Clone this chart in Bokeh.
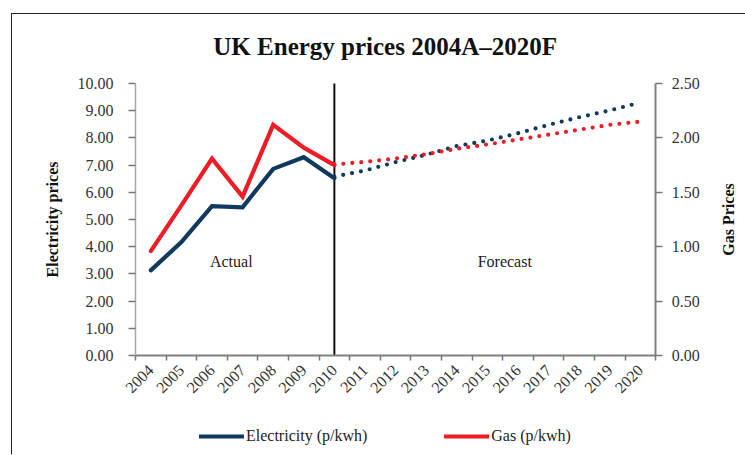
import math
from bokeh.plotting import figure
from bokeh.models import (Range1d, LinearAxis, FixedTicker, Legend, LegendItem,
                          NumeralTickFormatter, ColumnDataSource)
from bokeh.core.properties import value
from bokeh.embed import file_html
from bokeh.resources import INLINE

# ---------------- data ----------------
years = [str(y) for y in range(2004, 2021)]
actual_years = ["2004", "2005", "2006", "2007", "2008", "2009", "2010"]
forecast_years = ["2010", "2011", "2012", "2013", "2014", "2015", "2016",
                  "2017", "2018", "2019", "2020"]
elec_actual = [3.13, 4.17, 5.49, 5.45, 6.86, 7.29, 6.52]          # p/kwh, left axis
gas_actual = [0.96, 1.38, 1.81, 1.46, 2.12, 1.91, 1.75]           # right axis
elec_forecast = [6.58, 6.80, 7.11, 7.38, 7.70, 7.90, 8.17, 8.48, 8.76, 9.01, 9.30]
gas_forecast = [1.755, 1.78, 1.81, 1.85, 1.90, 1.94, 1.985, 2.03, 2.075, 2.12, 2.15]
elec_ticks = [0, 1, 2, 3, 4, 5, 6, 7, 8, 9, 10]
gas_ticks = [0, 0.5, 1.0, 1.5, 2.0, 2.5]
divider_year = "2010"
title_text = "UK Energy prices 2004A\u20132020F"
left_label = "Electricity prices"
right_label = "Gas Prices"

# category centres on a numeric scale (Excel style: ticks between categories)
pos = {y: i + 0.5 for i, y in enumerate(years)}
bounds = list(range(len(years) + 1))

FONT = "Liberation Serif"
ELEC = "#0f3a5e"
GAS = "#ee1d25"

# the frame covers the whole chart area; axes are pinned inside it
EXTRA_B = 3.456      # room below zero for year labels and legend
EXTRA_T = 2.537      # room above the top tick for the title
EXTRA_L = 4.02       # room left of the first category for the left axis
EXTRA_R = 2.97       # room right of the last category for the right axis
gas_scale = gas_ticks[-1] / elec_ticks[-1]
n = len(years)

p = figure(width=734, height=441, output_backend="svg", toolbar_location=None,
           title=None,
           x_range=Range1d(-EXTRA_L, n + EXTRA_R),
           y_range=Range1d(elec_ticks[0] - EXTRA_B, elec_ticks[-1] + EXTRA_T),
           min_border_left=0, min_border_right=0, min_border_top=0,
           min_border_bottom=6,
           styles={"border-top": "1.5px solid #222", "border-left": "1.5px solid #222",
                   "margin-left": "11px", "margin-top": "13px"})
p.extra_y_ranges = {"gas": Range1d(gas_ticks[0] - EXTRA_B * gas_scale,
                                   gas_ticks[-1] + EXTRA_T * gas_scale)}
p.xgrid.visible = False
p.ygrid.visible = False
p.outline_line_color = None
p.background_fill_color = "white"
p.border_fill_color = "white"

# title
p.text(x=[n / 2 - 0.34], y=[elec_ticks[-1] + 1.36], text=[title_text],
       text_font=value(FONT), text_font_style="bold", text_font_size="25px",
       text_color="#111111", text_align="center", text_baseline="middle")

# x axis, pinned at zero
xa = p.xaxis[0]
xa.fixed_location = 0
xa.bounds = (bounds[0], bounds[-1])
xa.ticker = FixedTicker(ticks=[pos[y] for y in years], minor_ticks=bounds)
xa.major_label_overrides = {pos[y]: y for y in years}
xa.major_label_orientation = math.pi / 4
xa.major_tick_out = 0
xa.major_tick_in = 0
xa.minor_tick_out = 5
xa.minor_tick_in = 0
xa.minor_tick_line_color = "#777777"
xa.minor_tick_line_width = 1.5
xa.axis_line_color = "#808080"
xa.axis_line_width = 2
xa.major_label_text_font = FONT
xa.major_label_text_font_size = "16px"
xa.major_label_text_color = "#333333"
xa.major_label_standoff = 7

# left axis, pinned at the first category boundary
ya = p.yaxis[0]
ya.fixed_location = bounds[0]
ya.bounds = (elec_ticks[0], elec_ticks[-1])
ya.ticker = FixedTicker(ticks=elec_ticks)
ya.formatter = NumeralTickFormatter(format="0.00")
ya.axis_label = left_label
ya.axis_label_text_font = FONT
ya.axis_label_text_font_style = "bold"
ya.axis_label_text_font_size = "16px"
ya.axis_label_text_color = "#111111"
ya.axis_label_standoff = 14
ya.major_label_text_font = FONT
ya.major_label_text_font_size = "16px"
ya.major_label_text_color = "#333333"
ya.major_label_standoff = 15
ya.axis_line_color = "#a8a8a8"
ya.axis_line_width = 1.5
ya.major_tick_line_color = "#777777"
ya.major_tick_line_width = 1.5
ya.major_tick_out = 7
ya.major_tick_in = 0
ya.minor_tick_line_color = None

# right axis, pinned at the last category boundary
ra = LinearAxis(y_range_name="gas", ticker=FixedTicker(ticks=gas_ticks),
                formatter=NumeralTickFormatter(format="0.00"),
                bounds=(gas_ticks[0], gas_ticks[-1]), fixed_location=bounds[-1])
ra.major_label_text_font = FONT
ra.major_label_text_font_size = "16px"
ra.major_label_text_color = "#333333"
ra.major_label_standoff = 9
ra.axis_line_color = "#808080"
ra.axis_line_width = 2
ra.major_tick_line_color = "#777777"
ra.major_tick_line_width = 1.5
ra.major_tick_out = 7
ra.major_tick_in = 0
ra.minor_tick_line_color = None
p.add_layout(ra, "right")

# right axis title, reading bottom to top
p.text(x=[n + 2.39], y=[(elec_ticks[0] + elec_ticks[-1]) / 2], text=[right_label],
       angle=math.pi / 2, text_font=value(FONT), text_font_style="bold",
       text_font_size="16px", text_color="#111111", text_align="center",
       text_baseline="middle")

# divider between actual and forecast
p.segment(x0=[pos[divider_year]], y0=[elec_ticks[0]], x1=[pos[divider_year]],
          y1=[elec_ticks[-1]], line_color="#111111", line_width=2)

# series
r_e = p.line([pos[y] for y in actual_years], elec_actual, line_color=ELEC,
             line_width=4.2, line_join="miter", line_cap="round")
r_g = p.line([pos[y] for y in actual_years], gas_actual, y_range_name="gas",
             line_color=GAS, line_width=4.2, line_join="miter", line_cap="round")
p.line([pos[y] for y in forecast_years], elec_forecast, line_color=ELEC,
       line_width=4.2, line_dash="0 9", line_cap="round")
p.line([pos[y] for y in forecast_years], gas_forecast, y_range_name="gas",
       line_color=GAS, line_width=4.2, line_dash="0 9", line_cap="round")

# annotations
ann = ColumnDataSource(dict(x=[pos["2007"] - 0.37, pos["2016"] - 0.43],
                            y=[3.46, 3.46], t=["Actual", "Forecast"]))
p.text(x="x", y="y", text="t", source=ann, text_font=value(FONT),
       text_font_size="16px", text_color="#222222", text_align="center",
       text_baseline="middle")

legend = Legend(items=[LegendItem(label="Electricity (p/kwh)", renderers=[r_e]),
                       LegendItem(label="Gas (p/kwh)", renderers=[r_g])],
                orientation="horizontal", location=(187, 4),
                glyph_width=45, glyph_height=18, label_standoff=2, spacing=77,
                padding=0, margin=0, border_line_color=None,
                background_fill_alpha=0,
                label_text_font=FONT, label_text_font_size="16px",
                label_text_color="#222222")
p.add_layout(legend, "center")

open("out.html", "w").write(file_html(p, INLINE))
